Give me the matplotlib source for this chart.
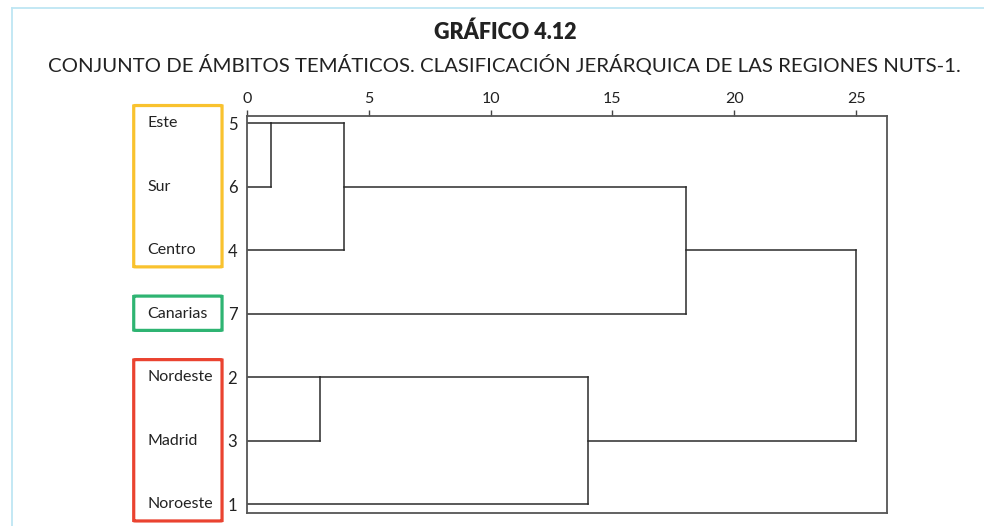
import numpy as np
import matplotlib.pyplot as plt
from matplotlib.patches import FancyBboxPatch
from matplotlib.lines import Line2D
from matplotlib.transforms import blended_transform_factory

plt.rcParams['font.family'] = ['Lato', 'DejaVu Sans']

# hojas del dendrograma (orden de arriba a abajo)
leaf_ids = ['5', '6', '4', '7', '2', '3', '1']
leaf_names = ['Este', 'Sur', 'Centro', 'Canarias', 'Nordeste', 'Madrid', 'Noroeste']

# fusiones: (cluster a, cluster b, distancia). 0-6 son hojas, 7+ las fusiones en orden
merges = [(0, 1, 1), (7, 2, 4), (4, 5, 3), (8, 3, 18), (9, 6, 14), (10, 11, 25)]

# grupos de regiones (hoja inicial, hoja final) y color del recuadro
group_ranges = [(0, 2), (3, 3), (4, 6)]
group_colors = ['#F9C22E', '#2EB472', '#EA4330']

x_ticks = [0, 5, 10, 15, 20, 25]

W, H = 984, 526
fig = plt.figure(figsize=(W / 100, H / 100), dpi=100)
ax = fig.add_axes([247 / W, 1 - 512.7 / H, 640 / W, (512.7 - 116) / H])

line_kw = dict(color='#2b2b2b', lw=1.1, solid_capstyle='projecting')
pos = list(range(len(leaf_ids)))
height = [0] * len(leaf_ids)
for a, b, d in merges:
    for c in (a, b):
        ax.plot([height[c], d], [pos[c], pos[c]], **line_kw)
    ax.plot([d, d], [pos[a], pos[b]], **line_kw)
    pos.append(np.floor((pos[a] + pos[b]) / 2))
    height.append(d)

ax.set_xlim(0, 26.27)
ax.set_ylim(6.13, -0.115)
ax.xaxis.tick_top()
ax.set_xticks(x_ticks)
ax.set_xticklabels([str(t) for t in x_ticks], fontsize=11.5, color='#222222')
ax.tick_params(axis='x', direction='out', length=4.5, width=1, color='#444444', pad=2.5)
ax.set_yticks(range(len(leaf_ids)))
ax.set_yticklabels(leaf_ids, fontsize=12, color='#222222')
ax.tick_params(axis='y', length=0, pad=7)
for s in ax.spines.values():
    s.set_color('#555555')
    s.set_linewidth(1.3)

# nombres de regiones y recuadros de color
tr = blended_transform_factory(ax.transAxes, ax.transData)
for i, name in enumerate(leaf_names):
    ax.text(-0.156, i, name, transform=tr, ha='left', va='center',
            fontsize=11.5, color='#222222', clip_on=False)
for (g0, g1), col in zip(group_ranges, group_colors):
    y0 = g0 - 0.28
    y1 = g1 + 0.26
    box = FancyBboxPatch((-0.177, y0), 0.138, y1 - y0, transform=tr,
                         boxstyle='round,pad=0,rounding_size=0.004',
                         fill=False, edgecolor=col, lw=2.3, clip_on=False)
    ax.add_patch(box)

# marco azul claro
fc = '#BEE6F3'
fig.add_artist(Line2D([12 / W, 12 / W], [0, 1 - 8 / H], transform=fig.transFigure, color=fc, lw=1.3))
fig.add_artist(Line2D([12 / W, 1], [1 - 8 / H, 1 - 8 / H], transform=fig.transFigure, color=fc, lw=1.3))

fig.text(505 / W, 1 - 32 / H, 'GRÁFICO 4.12', ha='center', va='center',
         fontsize=15.5, fontweight='heavy', color='#222222')
fig.text(504 / W, 1 - 64.5 / H,
         'CONJUNTO DE ÁMBITOS TEMÁTICOS. CLASIFICACIÓN JERÁRQUICA DE LAS REGIONES NUTS-1.',
         ha='center', va='center', fontsize=14.7, color='#222222')

fig.savefig('out.png', dpi=100)
